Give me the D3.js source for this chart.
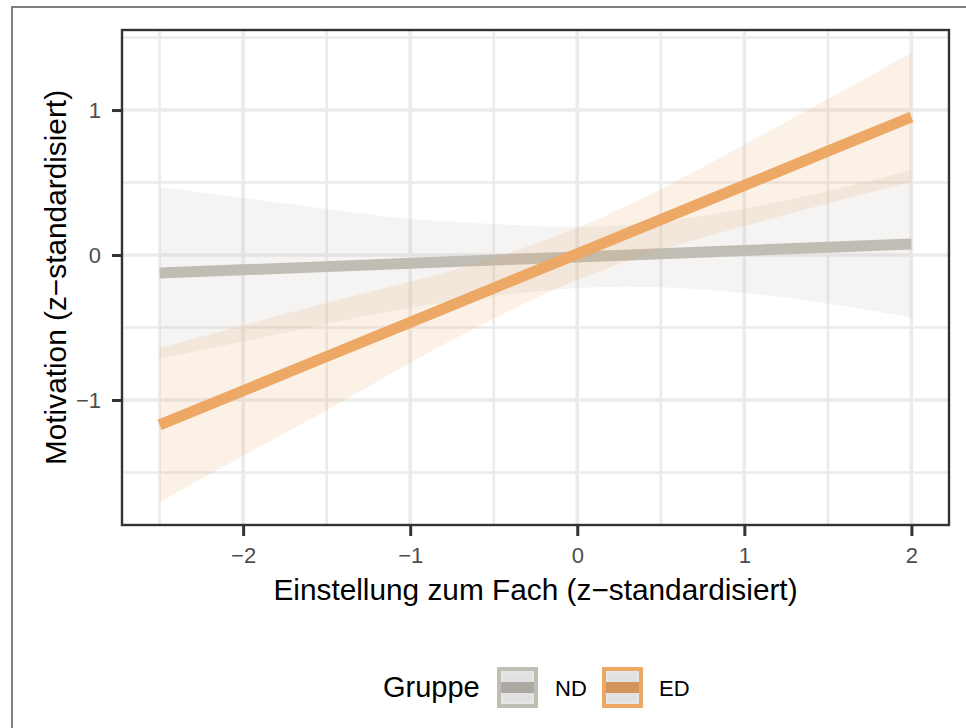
<!DOCTYPE html>
<html>
<head>
<meta charset="utf-8">
<script src="https://cdn.jsdelivr.net/npm/d3@7"></script>
<style>
  html, body { margin: 0; padding: 0; background: #ffffff; }
  svg { display: block; }
  text { font-family: "Liberation Sans", Arial, Helvetica, sans-serif; }
</style>
</head>
<body>
<svg id="chart" width="966" height="728"></svg>
<script>
// ---------------- data ----------------
const groups = ["ND", "ED"];
const xs      = [-2.5, -2.0, -1.5, -1.0, -0.5, 0.0, 0.5, 1.0, 1.5, 2.0];
const ndFit   = [-0.124, -0.102, -0.080, -0.057, -0.035, -0.013, 0.009, 0.031, 0.054, 0.076];
const ndUpper = [0.469, 0.393, 0.317, 0.250, 0.214, 0.195, 0.230, 0.320, 0.440, 0.586];
const ndLower = [-0.717, -0.597, -0.477, -0.364, -0.284, -0.228, -0.222, -0.262, -0.334, -0.430];
const edFit   = [-1.172, -0.936, -0.700, -0.464, -0.228, 0.008, 0.244, 0.480, 0.716, 0.952];
const edUpper = [-0.642, -0.486, -0.330, -0.184, -0.018, 0.188, 0.454, 0.760, 1.076, 1.395];
const edLower = [-1.702, -1.386, -1.070, -0.744, -0.438, -0.172, 0.034, 0.200, 0.356, 0.505];
const xTicks = [-2, -1, 0, 1, 2];
const xTickLabels = ["\u22122", "\u22121", "0", "1", "2"];
const xMinor = [-2.5, -1.5, -0.5, 0.5, 1.5];
const yTicks = [-1, 0, 1];
const yTickLabels = ["\u22121", "0", "1"];
const yMinor = [-1.5, -0.5, 0.5, 1.5];
const xTitle = "Einstellung zum Fach (z\u2212standardisiert)";
const yTitle = "Motivation (z\u2212standardisiert)";
const legendTitle = "Gruppe";

// ---------------- styling ----------------
const lineColors = { ND: "#c0bdb5", ED: "#eda866" };
const bandColors = { ND: "#aca9a3", ED: "#d3955e" };
const ribbonAlpha = 0.16;

const svg = d3.select("#chart");
const P = { left: 122, top: 30, right: 949, bottom: 525 };

const x = d3.scaleLinear().domain([-2.725, 2.225]).range([P.left, P.right]);
const y = d3.scaleLinear().domain([-1.862, 1.552]).range([P.bottom, P.top]);

// outer frame (extends past the right / bottom edge)
svg.append("rect")
  .attr("x", 12).attr("y", 7).attr("width", 1000).attr("height", 800)
  .attr("fill", "none").attr("stroke", "#7f7f7f").attr("stroke-width", 2);

// panel background
svg.append("rect")
  .attr("x", P.left).attr("y", P.top)
  .attr("width", P.right - P.left).attr("height", P.bottom - P.top)
  .attr("fill", "#ffffff");

const grid = svg.append("g");
grid.selectAll(".xminor").data(xMinor).join("line")
  .attr("class", "xminor")
  .attr("x1", d => x(d)).attr("x2", d => x(d))
  .attr("y1", P.top).attr("y2", P.bottom)
  .attr("stroke", "#ebebeb").attr("stroke-width", 2.6);
grid.selectAll(".yminor").data(yMinor).join("line")
  .attr("class", "yminor")
  .attr("y1", d => y(d)).attr("y2", d => y(d))
  .attr("x1", P.left).attr("x2", P.right)
  .attr("stroke", "#ebebeb").attr("stroke-width", 2.6);
grid.selectAll(".xmajor").data(xTicks).join("line")
  .attr("class", "xmajor")
  .attr("x1", d => x(d)).attr("x2", d => x(d))
  .attr("y1", P.top).attr("y2", P.bottom)
  .attr("stroke", "#ebebeb").attr("stroke-width", 3.6);
grid.selectAll(".ymajor").data(yTicks).join("line")
  .attr("class", "ymajor")
  .attr("y1", d => y(d)).attr("y2", d => y(d))
  .attr("x1", P.left).attr("x2", P.right)
  .attr("stroke", "#ebebeb").attr("stroke-width", 3.6);

// ---------------- series ----------------
const seriesData = {
  ND: xs.map((v, i) => ({ x: v, fit: ndFit[i], lo: ndLower[i], hi: ndUpper[i] })),
  ED: xs.map((v, i) => ({ x: v, fit: edFit[i], lo: edLower[i], hi: edUpper[i] }))
};

const area = d3.area()
  .x(d => x(d.x)).y0(d => y(d.lo)).y1(d => y(d.hi))
  .curve(d3.curveNatural);
const line = d3.line()
  .x(d => x(d.x)).y(d => y(d.fit));

const plot = svg.append("g");
groups.forEach(g => {
  plot.append("path")
    .datum(seriesData[g])
    .attr("d", area)
    .attr("fill", lineColors[g])
    .attr("fill-opacity", ribbonAlpha);
  plot.append("path")
    .datum(seriesData[g])
    .attr("d", line)
    .attr("fill", "none")
    .attr("stroke", lineColors[g])
    .attr("stroke-width", 11)
    .attr("stroke-linecap", "butt");
});

// panel border
svg.append("rect")
  .attr("x", P.left).attr("y", P.top)
  .attr("width", P.right - P.left).attr("height", P.bottom - P.top)
  .attr("fill", "none").attr("stroke", "#333333").attr("stroke-width", 2.4);

// ---------------- axes ----------------
const xAxis = d3.axisBottom(x)
  .tickValues(xTicks)
  .tickFormat((d, i) => xTickLabels[i])
  .tickSize(10).tickPadding(11);
const gx = svg.append("g").attr("transform", `translate(0,${P.bottom + 1})`).call(xAxis);
gx.select(".domain").remove();
gx.selectAll(".tick line").attr("stroke", "#333333").attr("stroke-width", 3);
gx.selectAll(".tick text")
  .attr("fill", "#4d4d4d").attr("font-size", 22)
  .attr("font-family", "'Liberation Sans', Arial, sans-serif");

const yAxis = d3.axisLeft(y)
  .tickValues(yTicks)
  .tickFormat((d, i) => yTickLabels[i])
  .tickSize(9).tickPadding(11);
const gy = svg.append("g").attr("transform", `translate(${P.left - 1},0)`).call(yAxis);
gy.select(".domain").remove();
gy.selectAll(".tick line").attr("stroke", "#333333").attr("stroke-width", 3);
gy.selectAll(".tick text")
  .attr("fill", "#4d4d4d").attr("font-size", 22)
  .attr("font-family", "'Liberation Sans', Arial, sans-serif");

// axis titles
svg.append("text")
  .attr("x", (P.left + P.right) / 2).attr("y", 600)
  .attr("text-anchor", "middle")
  .attr("font-size", 29.8).attr("fill", "#000000")
  .text(xTitle);

svg.append("text")
  .attr("transform", `translate(66,${(P.top + P.bottom) / 2}) rotate(-90)`)
  .attr("text-anchor", "middle")
  .attr("font-size", 29.8).attr("fill", "#000000")
  .text(yTitle);

// ---------------- legend ----------------
const legend = svg.append("g");
legend.append("text")
  .attr("x", 383).attr("y", 697)
  .attr("font-size", 29).attr("fill", "#000000")
  .text(legendTitle);

const keyX = { ND: 497, ED: 602 };
const labX = { ND: 555, ED: 659 };
const keyY = 667, keySize = 41;
groups.forEach(g => {
  const k = legend.append("g").attr("transform", `translate(${keyX[g]},${keyY})`);
  k.append("rect")
    .attr("x", 2).attr("y", 2).attr("width", keySize - 4).attr("height", keySize - 4)
    .attr("fill", "#e1e1e1").attr("stroke", lineColors[g]).attr("stroke-width", 4);
  k.append("rect")
    .attr("x", 5).attr("y", 5).attr("width", keySize - 10).attr("height", keySize - 10)
    .attr("fill", "none").attr("stroke", "#ececec").attr("stroke-width", 1);
  k.append("line")
    .attr("x1", 4).attr("x2", keySize - 4)
    .attr("y1", keySize / 2).attr("y2", keySize / 2)
    .attr("stroke", bandColors[g]).attr("stroke-width", 11);
  legend.append("text")
    .attr("x", labX[g]).attr("y", 696)
    .attr("font-size", 22).attr("fill", "#000000")
    .text(g);
});
</script>
</body>
</html>
